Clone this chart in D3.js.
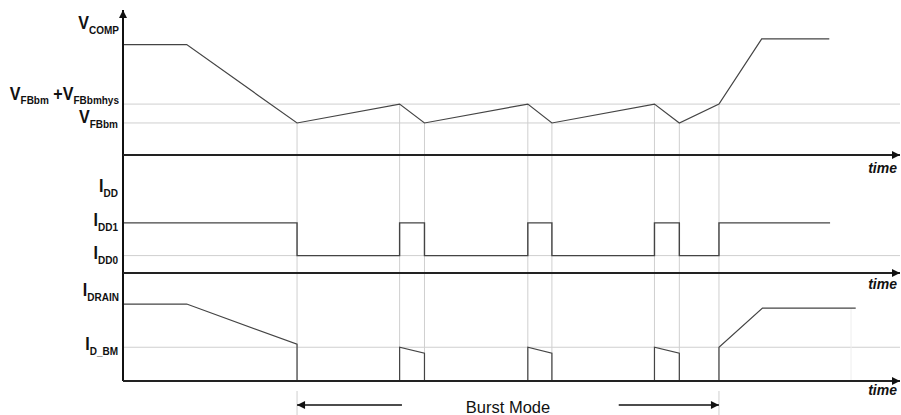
<!DOCTYPE html>
<html>
<head>
<meta charset="utf-8">
<script src="https://cdn.jsdelivr.net/npm/d3@7"></script>
<style>
  body { margin: 0; background: #fff; }
  text { font-family: "Liberation Sans", Arial, sans-serif; }
</style>
</head>
<body>
<svg id="chart" width="901" height="415"></svg>
<script>
// Données (temps en unités arbitraires, niveaux par panneau)
const vcompT = [0, 8.2, 22.4, 35.6, 38.8, 52.1, 55.2, 68.4, 71.6, 76.7, 82.2, 90.9];
const vcompV = [3.86, 3.86, 1.12, 1.78, 1.12, 1.78, 1.12, 1.78, 1.12, 1.78, 4.06, 4.06];
const vcompLevels = { hys: 1.78, fb: 1.12 };

const iddT = [0, 22.4, 35.6, 38.8, 52.1, 55.2, 68.4, 71.6, 76.7, 91.0];
const iddV = [1.70, 0.59, 1.70, 0.59, 1.70, 0.59, 1.70, 0.59, 1.70, 1.70];
const iddLevels = { idd1: 1.70, idd0: 0.59 };

const drainStartT = [0, 8.2, 22.4, 22.4];
const drainStartV = [2.85, 2.85, 1.36, 0];
const pulseStart = [35.6, 52.1, 68.4];
const pulseEnd = [38.8, 55.2, 71.6];
const pulseTop = [1.25, 1.25, 1.25];
const pulseBottom = [1.03, 1.03, 1.03];
const drainEndT = [76.7, 76.7, 82.3, 94.3];
const drainEndV = [0, 1.25, 2.70, 2.70];
const drainLevelBM = 1.25;

const burstT = [22.4, 76.7];
const burstArrowInner = [35.9, 63.8];
const burstEdges = [22.4, 35.6, 38.8, 52.1, 55.2, 68.4, 71.6, 76.7];
const faintT = 93.7;

const svg = d3.select("#chart");

//Échelles
const x = d3.scaleLinear().domain([0, 100]).range([123, 900]);
const yV = d3.scaleLinear().domain([0, 5]).range([155, 12]);
const yI = d3.scaleLinear().domain([0, 4]).range([273, 155]);
const yD = d3.scaleLinear().domain([0, 4]).range([381, 273]);

const defs = svg.append("defs");
function arrowMarker(id, w, h, color) {
    defs.append("marker")
        .attr("id", id)
        .attr("viewBox", "0 0 10 10")
        .attr("refX", 10).attr("refY", 5)
        .attr("markerUnits", "userSpaceOnUse")
        .attr("markerWidth", w).attr("markerHeight", h)
        .attr("orient", "auto")
        .append("path")
        .attr("d", "M0,0 L10,5 L0,10 Z")
        .attr("fill", color);
}
arrowMarker("ax", 9, 8, "#111");
arrowMarker("bm", 12, 8, "#111");

const grid = "#cfcfcf";
const sig = "#444";

//Grille horizontale
const hLines = [yV(vcompLevels.hys), yV(vcompLevels.fb), yI(iddLevels.idd0), yD(drainLevelBM)];
svg.selectAll(".hgrid")
    .data(hLines)
    .enter()
    .append("line")
    .attr("x1", x(0)).attr("x2", x(100))
    .attr("y1", d => d).attr("y2", d => d)
    .attr("stroke", grid).attr("stroke-width", 1);

//Grille verticale
const vAt = t => vcompV[vcompT.indexOf(t)];
svg.selectAll(".vgrid")
    .data(burstEdges)
    .enter()
    .append("line")
    .attr("x1", d => x(d)).attr("x2", d => x(d))
    .attr("y1", d => yV(vAt(d))).attr("y2", yD(0))
    .attr("stroke", grid).attr("stroke-width", 1);

svg.selectAll(".vgrid2")
    .data(burstT)
    .enter()
    .append("line")
    .attr("x1", d => x(d)).attr("x2", d => x(d))
    .attr("y1", yD(0) + 10).attr("y2", 415)
    .attr("stroke", grid).attr("stroke-width", 1);

svg.append("line")
    .attr("x1", x(faintT)).attr("x2", x(faintT))
    .attr("y1", yD(drainEndV[3])).attr("y2", yD(0))
    .attr("stroke", "#eee").attr("stroke-width", 1);

//Courbes
const lineV = d3.line().x(d => x(d[0])).y(d => yV(d[1]));
svg.append("path")
    .attr("d", lineV(d3.zip(vcompT, vcompV)))
    .attr("fill", "none").attr("stroke", sig).attr("stroke-width", 1.2);

const lineI = d3.line().x(d => x(d[0])).y(d => yI(d[1])).curve(d3.curveStepAfter);
svg.append("path")
    .attr("d", lineI(d3.zip(iddT, iddV)))
    .attr("fill", "none").attr("stroke", sig).attr("stroke-width", 1.4);

const lineD = d3.line().x(d => x(d[0])).y(d => yD(d[1]));
svg.append("path")
    .attr("d", lineD(d3.zip(drainStartT, drainStartV)))
    .attr("fill", "none").attr("stroke", sig).attr("stroke-width", 1.2);

svg.selectAll(".pulse")
    .data(pulseStart.map((s, i) => [[s, 0], [s, pulseTop[i]], [pulseEnd[i], pulseBottom[i]], [pulseEnd[i], 0]]))
    .enter()
    .append("path")
    .attr("d", d => lineD(d))
    .attr("fill", "none").attr("stroke", sig).attr("stroke-width", 1.2);

svg.append("path")
    .attr("d", lineD(d3.zip(drainEndT, drainEndV)))
    .attr("fill", "none").attr("stroke", sig).attr("stroke-width", 1.2);

//Axes
svg.append("line")
    .attr("x1", x(0)).attr("x2", x(0))
    .attr("y1", yD(0)).attr("y2", 10)
    .attr("stroke", "#111").attr("stroke-width", 2)
    .attr("marker-end", "url(#ax)");

svg.selectAll(".haxis")
    .data([yV(0), yI(0), yD(0)])
    .enter()
    .append("line")
    .attr("x1", x(0)).attr("x2", 900)
    .attr("y1", d => d).attr("y2", d => d)
    .attr("stroke", "#222").attr("stroke-width", 2)
    .attr("marker-end", "url(#ax)");

svg.selectAll(".time")
    .data([yV(0) + 18, yI(0) + 16, yD(0) + 14])
    .enter()
    .append("text")
    .attr("x", 897).attr("y", d => d)
    .attr("text-anchor", "end")
    .attr("font-size", 14).attr("font-weight", "bold").attr("font-style", "italic")
    .attr("fill", "#111")
    .text("time");

//Étiquettes (un peu condensées en largeur, comme l'original)
function label(xp, yp, parts, subDy) {
    const dy = subDy || 5;
    const t = svg.append("g")
        .attr("transform", `translate(${xp},${yp}) scale(0.87,1)`)
        .append("text")
        .attr("text-anchor", "end")
        .attr("font-weight", "bold").attr("fill", "#111");
    parts.forEach(p => {
        t.append("tspan")
            .attr("font-size", p[1] === "sub" ? 11.5 : 18.5)
            .attr("dy", p[1] === "sub" ? dy : (p[1] === "up" ? -dy : 0))
            .text(p[0]);
    });
}
label(119, 29, [["V"], ["COMP", "sub"]]);
label(119, 100, [["V"], ["FBbm", "sub"], [" +V", "up"], ["FBbmhys", "sub"]], 4);
label(118, yV(vcompLevels.fb), [["V"], ["FBbm", "sub"]]);
label(118, 192, [["I"], ["DD", "sub"]]);
label(118, yI(iddLevels.idd1) + 3.5, [["I"], ["DD1", "sub"]]);
label(118, yI(iddLevels.idd0) + 3.5, [["I"], ["DD0", "sub"]]);
label(119, 296, [["I"], ["DRAIN", "sub"]]);
label(118, yD(drainLevelBM) + 3, [["I"], ["D_BM", "sub"]]);

//Burst Mode
const arrowY = 405;
svg.append("line")
    .attr("x1", x(burstArrowInner[0])).attr("x2", x(burstT[0]))
    .attr("y1", arrowY).attr("y2", arrowY)
    .attr("stroke", "#111").attr("stroke-width", 1.5)
    .attr("marker-end", "url(#bm)");
svg.append("line")
    .attr("x1", x(burstArrowInner[1])).attr("x2", x(burstT[1]))
    .attr("y1", arrowY).attr("y2", arrowY)
    .attr("stroke", "#111").attr("stroke-width", 1.5)
    .attr("marker-end", "url(#bm)");
svg.append("text")
    .attr("x", x((burstT[0] + burstT[1]) / 2)).attr("y", 413)
    .attr("text-anchor", "middle")
    .attr("font-size", 16.5).attr("fill", "#111")
    .text("Burst Mode");
</script>
</body>
</html>
